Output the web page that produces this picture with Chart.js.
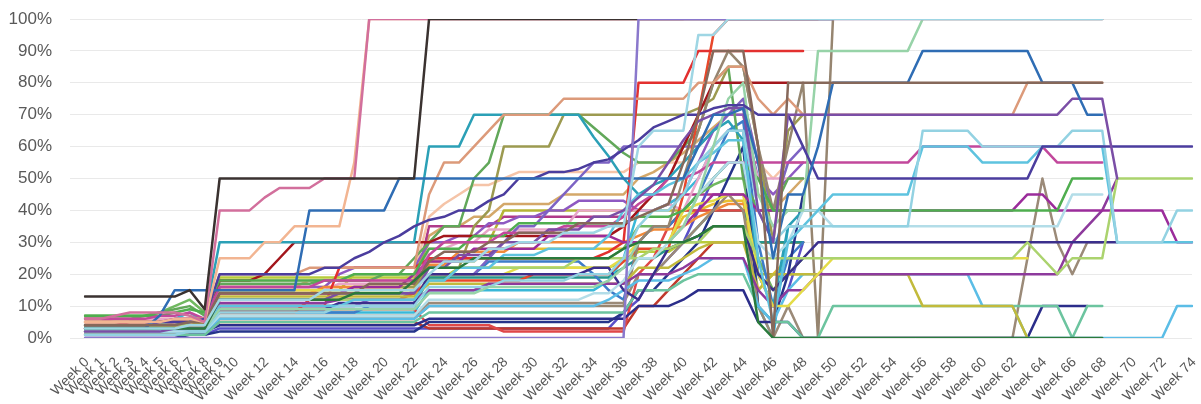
<!DOCTYPE html>
<html><head><meta charset="utf-8">
<script src="https://cdn.jsdelivr.net/npm/chart.js@4/dist/chart.umd.min.js"></script>
<style>html,body{margin:0;padding:0;background:#fff;}#wrap{width:1201px;height:404px;}</style>
</head><body><div id="wrap"><canvas id="c" width="1201" height="404"></canvas></div>
<script>
const weeks = ["Week 0","Week 1","Week 2","Week 3","Week 4","Week 5","Week 6","Week 7","Week 8","Week 9",
"Week 10","Week 11","Week 12","Week 13","Week 14","Week 15","Week 16","Week 17","Week 18","Week 19",
"Week 20","Week 21","Week 22","Week 23","Week 24","Week 25","Week 26","Week 27","Week 28","Week 29",
"Week 30","Week 31","Week 32","Week 33","Week 34","Week 35","Week 36","Week 37","Week 38","Week 39",
"Week 40","Week 41","Week 42","Week 43","Week 44","Week 45","Week 46","Week 47","Week 48","Week 49",
"Week 50","Week 51","Week 52","Week 53","Week 54","Week 55","Week 56","Week 57","Week 58","Week 59",
"Week 60","Week 61","Week 62","Week 63","Week 64","Week 65","Week 66","Week 67","Week 68","Week 69",
"Week 70","Week 71","Week 72","Week 73","Week 74"];
const yTicks = [0,10,20,30,40,50,60,70,80,90,100];

const lightBlue = [3,3,3,3,3,3,3,4,4,12, 12,12,12,12,12,12,15,15,15,15, 15,15,15,20,24,24,24,28,28,30, 30,30,33,33,33,35,35,60,65,65, 65,95,95,100,100,100,100,100,100,100, 100,100,100,100,100,100,100,100,100,100, 100,100,100,100,100,100,100,100,100];
const lavender = [0,0,0,0,0,0,0,0,0,0, 0,0,0,0,0,0,0,0,0,0, 0,0,0,0,0,0,0,0,0,0, 0,0,0,0,0,0,0,100,100,100, 100,100,100,100,100,100,100,100,100,100, 100];
const black = [13,13,13,13,13,13,13,15,9,50, 50,50,50,50,50,50,50,50,50,50, 50,50,50,100,100,100,100,100,100,100, 100,100,100,100,100,100,100,100,100,100, 100,100,100,100,100,100,100,100,100,100, 100];
const pink = [6,6,7,8,8,8,8,7,5,40, 40,40,44,47,47,47,50,50,50,100, 100,100,100,100,100,100,100,100,100,100, 100,100,100,100,100,100,100,100,100,100, 100,100,100,100,100,100,100,100,100,100, 100,100,100,100,100,100,100,100,100,100, 100,100,100,100,100,100,100,100,100];
const peach = [5,5,5,5,5,5,6,6,5,25, 25,25,30,30,35,35,35,35,55,100, 100,100,100,100,100,100,100,100,100,100, 100,100,100,100,100,100,100,100,100,100, 100];
const darkGreen = [3,3,3,3,3,3,3,3,3,12, 12,12,12,12,12,12,12,12,14,14, 14,14,18,22,22,22,25,25,25,25, 25,25,25,25,25,25,28,30,30,30, 30,32,35,35,35,5,0,0,0,0, 0,0,0,0,0,0,0,0,0,0, 0,0,0,0,0,0,0,0,0];
const brown = [4,4,4,4,4,4,4,5,5,14, 14,14,14,14,14,14,14,14,14,17, 17,17,17,24,27,27,27,30,30,33, 33,33,33,36,36,36,36,38,40,42, 55,70,90,90,90,60,0,80,80,80, 80,80,80,80,80,80,80,80,80,80, 80,80,80,80,80,80,80,80,80];
const blue = [3,3,3,3,3,7,15,15,15,15, 15,15,15,15,15,40,40,40,40,40, 40,50,50,50,50,50,50,50,50,50, 50,50,50,50,50,50,50,50,50,50, 50,60,70,70,72,55,25,45,45,60, 80,80,80,80,80,80,90,90,90,90, 90,90,90,90,80,80,80,70,70];
const purple = [2,2,2,2,2,2,3,3,3,12, 12,12,12,12,12,12,12,14,14,14, 14,14,14,22,22,26,26,26,30,30, 30,34,34,34,38,38,40,44,48,55, 62,68,70,72,72,40,30,70,70,70, 70,70,70,70,70,70,70,70,70,70, 70,70,70,70,70,70,75,75,75,50];
const slate = [4,4,4,4,4,5,5,5,6,20, 20,20,20,20,20,20,22,22,25,27, 30,32,35,37,38,40,40,43,45,50, 50,52,52,53,55,56,59,62,66,68, 70,70,72,73,73,70,70,70,60,50, 50,50,50,50,50,50,50,50,50,50, 50,50,50,50,60,60,60,60,60,60, 60,60,60,60,60];
const lightGreen = [2,2,2,2,2,3,3,3,3,9, 9,9,9,9,9,9,9,9,9,9, 9,9,9,14,14,14,14,16,16,16, 16,16,16,16,16,18,22,30,30,30, 35,45,60,75,80,45,35,40,40,90, 90,90,90,90,90,90,100,100,100,100, 100,100,100,100,100,100,100,100,100];
const salmon = [5,5,5,5,5,5,5,6,6,20, 20,20,20,20,20,22,22,22,22,22, 22,22,22,45,55,55,60,65,70,70, 70,70,75,75,75,75,75,75,75,75, 75,80,80,85,85,75,70,75,70,70, 70,70,70,70,70,70,70,70,70,70, 70,70,70,80,80,80,80,80,80];
const cyanA = [1,1,1,1,1,1,1,2,2,8, 8,8,8,8,8,8,8,10,10,10, 10,10,10,16,16,16,16,16,18,18, 18,18,18,20,20,20,25,35,40,40, 45,55,60,65,65,40,30,35,35,35, 35,35,35,35,35,35,65,65,65,65, 60,60,60,60,60,60,65,65,65,30, 30,30,30,40,40];
const cyanB = [3,3,3,3,3,3,3,3,3,10, 10,10,10,10,10,10,10,10,12,12, 12,12,12,18,18,22,22,22,26,26, 26,28,28,28,28,32,40,45,45,48, 50,55,58,62,62,25,5,30,35,40, 45,45,45,45,45,45,60,60,60,60, 55,55,55,55,60,60,60,60,60,30, 30,30,30,30,30];
const paleBlue = [2,2,2,2,2,2,2,2,2,7, 7,7,7,7,7,7,7,7,7,7, 7,7,7,12,12,12,12,12,12,12, 12,12,12,12,14,14,18,25,25,30, 35,45,50,55,55,30,25,30,40,40, 35,35,35,35,35,35,35,35,35,35, 35,35,35,35,35,35,45,45,45];
const magentaPink = [6,6,6,6,6,7,7,8,6,16, 16,16,16,16,16,16,18,18,18,18, 18,18,18,26,30,30,30,30,33,33, 33,33,35,35,35,35,38,42,45,50, 50,52,55,55,55,55,55,55,55,55, 55,55,55,55,55,55,60,60,60,60, 60,60,60,60,60,55,55,55,55];
const lime = [4,4,4,4,4,4,4,4,4,12, 12,12,12,12,12,12,12,12,12,12, 12,12,12,18,18,22,22,22,22,22, 22,22,22,25,25,25,25,25,28,28, 30,30,35,35,35,25,25,25,25,25, 25,25,25,25,25,25,25,25,25,25, 25,25,25,30,25,20,25,25,25,50, 50,50,50,50,50];
const green = [7,7,7,7,7,7,8,9,8,18, 18,18,18,18,18,18,18,18,20,20, 20,20,20,28,28,28,32,32,32,36, 36,36,36,36,36,36,36,38,38,38, 40,45,50,55,55,50,40,40,40,40, 40,40,40,40,40,40,40,40,40,40, 40,40,40,40,40,40,50,50,50];
const magentaPurple = [5,5,5,5,5,5,6,6,5,14, 14,14,14,14,14,14,14,14,16,16, 16,16,20,24,24,24,28,28,28,28, 28,32,32,32,32,32,30,30,30,30, 35,40,45,45,45,40,40,40,40,40, 40,40,40,40,40,40,40,40,40,40, 40,40,40,45,45,40,40,40,40,40, 40,40,40,30,30];
const navy30 = [3,3,3,3,3,3,3,3,3,9, 9,9,9,9,9,9,9,11,11,11, 11,11,11,20,20,20,20,20,20,20, 20,20,20,20,22,22,15,12,20,28, 30,32,35,35,35,20,15,20,25,30, 30,30,30,30,30,30,30,30,30,30, 30,30,30,30,30,30,30,30,30,30];
const yellow = [5,5,5,5,5,5,5,6,6,15, 15,15,15,15,15,15,15,15,15,15, 15,15,15,20,20,20,20,20,20,22, 22,22,22,22,22,22,25,30,30,30, 40,42,43,45,45,20,10,10,15,20, 25,25,25,25,25,25,25,25,25,25, 25,25,25,25];
const purple20 = [3,3,3,3,3,3,3,4,4,11, 11,11,11,11,11,11,11,12,12,12, 12,12,12,15,15,15,15,17,17,17, 17,17,17,17,17,17,17,20,20,20, 22,25,25,25,25,15,10,15,15,20, 20,20,20,20,20,20,20,20,20,20, 20,20,20,20,20,20,30,35,40,50];
const olive = [4,4,4,4,4,4,4,4,4,13, 13,13,13,13,13,13,13,13,13,13, 13,13,13,17,17,17,17,17,17,17, 17,17,17,17,17,17,17,22,22,22, 25,28,30,30,30,15,20,20,20,20, 20,20,20,20,20,20,10,10,10,10, 10,10,10,0];
const sky = [2,2,2,2,2,2,2,2,2,6, 6,6,6,6,6,6,6,6,6,6, 6,6,6,10,10,10,10,10,10,10, 10,10,10,10,10,12,15,18,18,18, 20,22,25,25,25,10,5,15,20,20, 20,20,20,20,20,20,20,20,20,20, 10,10,10,0,0,0,0,0,0,0, 0,0,0,10,10];
const mint = [1,1,1,1,1,1,1,1,1,5, 5,5,5,5,5,5,5,5,5,5, 5,5,5,8,8,8,8,8,8,8, 8,8,8,8,8,8,8,15,15,15, 18,20,20,20,20,10,5,5,0,0, 10,10,10,10,10,10,10,10,10,10, 10,10,10,10,10,10,0,10,10];
const navy10 = [2,2,2,2,2,2,2,2,2,4, 4,4,4,4,4,4,4,4,4,4, 4,4,4,6,6,6,6,6,6,6, 6,6,6,6,6,6,6,10,10,10, 12,15,15,15,15,5,5,5,0,0, 0,0,0,0,0,0,0,0,0,0, 0,0,0,0,10,10,10,10];
const taupeV = [2,2,2,2,2,2,2,2,2,7, 7,7,7,7,7,7,7,7,7,7, 7,7,7,11,11,11,11,11,11,11, 11,11,11,11,11,11,11,20,20,25, 30,35,40,45,40,10,0,10,0,0, 0,0,0,0,0,0,0,0,0,0, 0,0,0,25,50,30,20,30,30];
const taupe = [1,1,1,1,1,1,1,2,2,6, 6,6,6,6,6,6,6,6,6,6, 6,6,6,10,10,10,10,10,10,10, 10,10,10,10,10,10,10,30,35,35, 50,65,80,90,85,60,40,60,80,0, 100];
const teal = [4,4,4,4,4,4,4,5,6,30, 30,30,30,30,30,30,30,30,30,30, 30,30,30,60,60,60,70,70,70,70, 70,70,70,70,63,57,50,45,48,50, 55,60,65,68,62,20,10,35,40];
const maroon = [3,3,3,3,3,3,3,4,4,18, 18,18,20,25,30,30,30,30,30,30, 30,30,30,30,32,32,32,32,32,32, 32,32,32,32,32,32,35,40,45,50, 60,70,80,80,80,80,80,80];
const red = [2,2,2,2,2,2,2,3,3,10, 10,10,10,10,10,10,10,22,22,22, 22,22,22,25,25,25,25,25,25,25, 25,25,25,25,25,27,30,80,80,80, 80,90,90,90,90,90,90,90,90];
const redOrange = [1,1,1,1,1,1,1,2,2,8, 8,8,8,8,8,12,12,12,12,12, 12,12,14,18,18,18,18,18,18,18, 20,20,20,20,20,20,24,28,28,28, 45,70,95,100,100,100,100,100,100,100];
const green70 = [6,6,6,6,7,8,9,10,7,17, 17,17,17,17,17,17,18,18,18,18, 20,20,25,30,35,35,50,55,70,70, 70,70,70,70,66,62,58,55,55,55, 60,65,80,85,50,40,40,50,50];
const olive70 = [3,3,3,3,3,3,4,4,5,14, 14,14,14,14,14,14,14,14,16,16, 16,16,16,22,22,22,35,40,60,60, 60,60,70,70,70,70,70,70,70,70, 70,72,75,85,85,60,30,65,70];
const medPurple = [3,3,3,3,3,3,3,4,4,10, 10,10,10,10,10,10,10,10,10,12, 12,12,15,20,20,20,20,25,30,35, 35,40,45,50,55,55,60,60,60,60, 60,60,65,70,75,55,40,55,60];
const navyLow = [0,0,0,0,0,0,0,1,1,2, 2,2,2,2,2,2,2,2,2,2, 2,2,2,5,5,5,5,5,5,5, 5,5,5,5,5,5,8,15,15,20, 25,30,40,50,60,10,5,20,45];
const blue2 = [2,2,2,2,2,2,2,2,2,8, 8,8,8,8,8,8,8,8,8,10, 10,10,10,20,20,20,20,24,24,24, 24,24,24,24,20,15,12,30,35,35, 40,45,55,65,68,30,10,25,30];
const orange = [5,5,5,5,5,5,5,5,5,14, 14,14,14,14,14,14,16,16,16,16, 16,16,16,23,23,27,27,27,27,30, 30,30,30,30,30,30,30,32,34,34, 35,38,40,42,42,40,40,40,40];
const red3 = [3,3,3,3,3,3,3,3,3,9, 9,9,9,9,9,9,9,9,9,9, 9,9,9,4,4,4,4,4,2,2, 2,2,2,2,2,2,2,20,25,35, 40,40,40,40,40,40,40,40];
const lightPink = [5,5,6,6,6,6,6,6,5,15, 15,15,15,15,15,15,15,17,17,17, 17,17,17,28,28,30,30,34,34,34, 34,34,34,40,40,40,40,40,40,42, 40,50,60,65,65,50,50,50,50];
const cyan2 = [4,4,4,4,4,4,6,8,5,8, 8,8,8,8,8,8,8,8,8,8, 8,8,8,15,15,15,15,15,15,15, 15,15,15,15,15,18,25,40,40,42, 45,50,60,65,65,10,0,35,35];
const teal2 = [2,2,2,2,2,2,2,2,2,10, 10,10,10,10,10,10,10,10,10,10, 10,10,10,19,19,19,19,19,19,19, 19,19,19,19,19,19,22,25,25,28, 30,35,40,40,40,30,30,30,30];
const yellowGreen = [3,3,3,3,3,3,3,3,3,19, 19,19,19,19,19,19,19,19,19,19, 19,19,19,19,19,22,22,22,22,22, 22,22,22,22,22,22,24,27,27,27, 30,30,30,30,30,30,30,30,30];
const purple2 = [3,3,3,3,3,4,5,6,4,16, 16,16,16,16,16,16,16,20,22,22, 22,22,22,30,30,32,32,36,36,38, 38,40,40,43,43,43,43,40,40,42, 45,55,65,70,70,50,45,50,55];
const lightPeach = [6,6,6,6,6,6,6,6,6,18, 18,18,18,18,18,18,18,18,18,18, 18,18,20,38,42,45,48,48,50,52, 52,52,52,52,52,52,52,55,55,55, 55,60,65,70,75,55,50,55,55];
const green2 = [7,7,7,7,7,8,10,12,8,12, 12,12,12,12,12,12,12,14,14,14, 14,14,14,25,25,25,25,25,25,25, 25,25,25,25,25,25,28,35,35,35, 40,45,48,50,50,25,15,20,25];
const redBrown = [2,2,2,2,2,2,2,2,2,5, 5,5,5,5,5,5,5,5,5,5, 5,5,5,3,3,3,3,3,3,3, 3,3,3,3,3,3,3,10,10,15, 20,25,30,30,30,30,30,30,30];
const blueViolet = [1,1,1,1,1,1,1,1,1,3, 3,3,3,3,3,3,3,3,3,3, 3,3,3,3,3,3,3,3,3,3, 3,3,3,3,3,3,8,12,20,25, 30,40,50,55,55,20,10,15,30];
const gold = [4,4,4,4,4,4,4,4,4,16, 16,16,16,16,16,16,16,16,16,16, 16,16,16,24,24,24,24,28,28,28, 28,28,28,28,28,28,28,30,30,30, 38,40,42,43,43,15,20,25,25];
const olive2 = [4,4,4,4,4,4,4,5,5,15, 15,15,15,15,15,15,15,15,20,20, 20,20,20,30,30,30,30,30,40,40, 40,40,40,40,40,40,40,40,40,40, 40,40,40,40,40,20,20,20,20];
const magenta2 = [4,4,4,5,5,5,5,5,5,14, 14,14,14,14,14,14,14,14,14,14, 14,14,14,35,35,35,35,35,38,38, 38,38,38,38,38,38,38,45,45,45, 45,45,45,45,45,30,30,30,30];
const sand = [5,5,5,5,5,5,5,5,5,16, 16,16,16,16,16,18,18,18,18,18, 18,18,18,32,35,35,38,38,42,42, 42,42,45,45,45,45,45,50,52,55, 58,62,66,70,70,45,40,45,50];

// drawing order: first entry is drawn on top
const seriesList = [
  [lightBlue, '#9fd6e4'], [lavender, '#8a78cc'], [black, '#3a3230'], [pink, '#d26f9c'], [peach, '#f2b592'],
  [darkGreen, '#2a7a3c'], [brown, '#86685a'], [blue, '#2f6db4'], [purple, '#7b4ea6'], [slate, '#4b3d9e'],
  [lightGreen, '#97d3a8'], [salmon, '#dc9a7a'], [cyanA, '#93d2e2'], [cyanB, '#5ec3df'], [paleBlue, '#b3dde8'],
  [magentaPink, '#c2489c'], [lime, '#abd36e'], [green, '#4fae4f'], [magentaPurple, '#9b2c9b'], [navy30, '#3b2f8c'],
  [yellow, '#e4dc48'], [purple20, '#8d3a9c'], [olive, '#c2ba3c'], [sky, '#5bbde6'], [mint, '#6cc49f'],
  [navy10, '#2b2d8a'], [taupeV, '#9b8a78'], [taupe, '#968570'], [teal, '#2ba0b6'], [maroon, '#a3161c'],
  [red, '#e3302f'], [redOrange, '#e8472a'], [green70, '#62a85a'], [olive70, '#9c9a50'], [medPurple, '#7d63c4'],
  [navyLow, '#26348a'], [blue2, '#3d7cc9'], [orange, '#f08a3a'], [red3, '#e04848'], [lightPink, '#e8a6c8'],
  [cyan2, '#38b8d8'], [teal2, '#26958a'], [yellowGreen, '#b8cc3a'], [purple2, '#8e59c2'], [lightPeach, '#f5c4a8'],
  [green2, '#70b860'], [redBrown, '#c0392b'], [blueViolet, '#5a4fc8'], [gold, '#e8c030'], [olive2, '#b5b535'],
  [magenta2, '#b03a8a'], [sand, '#d4a86a']
];

Chart.defaults.font.family = "'Liberation Sans', Arial, sans-serif";
const datasets = seriesList.map(([d, c]) => ({
  data: d, borderColor: c, backgroundColor: c, borderWidth: 2.5, pointRadius: 0, tension: 0, fill: false
}));

new Chart(document.getElementById('c'), {
  type: 'line',
  data: { labels: weeks, datasets },
  options: {
    responsive: false, animation: false, devicePixelRatio: 1,
    layout: { padding: { left: 8, right: 9, top: 19, bottom: 0 } },
    plugins: { legend: { display: false }, tooltip: { enabled: false } },
    elements: { point: { radius: 0 }, line: { borderJoinStyle: 'round', borderCapStyle: 'round' } },
    scales: {
      x: {
        grid: { display: false, drawTicks: false },
        border: { display: false },
        ticks: {
          autoSkip: false, maxRotation: 45, minRotation: 45, padding: 16, labelOffset: 2,
          color: '#555555', font: { size: 14 },
          callback: function (v, i) { return (i < 10 || i % 2 === 0) ? this.getLabelForValue(v) : ''; }
        },
        afterFit: function (s) { s.height = 66; s.paddingLeft = 0; s.paddingRight = 0; }
      },
      y: {
        min: 0, max: 100,
        afterBuildTicks: function (s) { s.ticks = yTicks.map(v => ({ value: v })); },
        grid: { color: '#e9e9e9', lineWidth: 1, tickLength: 15 },
        border: { display: false },
        ticks: { padding: 18, color: '#595959', font: { size: 17 }, callback: v => v + '%' },
        afterFit: function (s) { s.width = 77; s.paddingTop = 10; s.paddingBottom = 10; }
      }
    }
  }
});
</script>
</body></html>
